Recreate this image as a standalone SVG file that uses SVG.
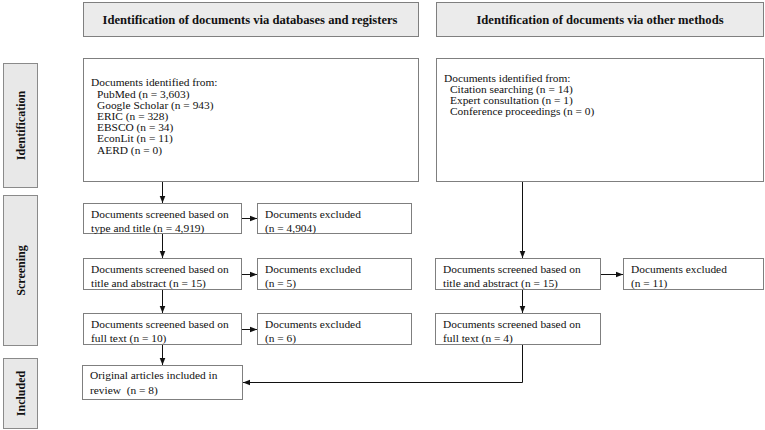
<svg xmlns="http://www.w3.org/2000/svg" width="765" height="430" viewBox="0 0 765 430">
<defs>
<style>
.hdr{fill:#ebebeb;stroke:#7f7f7f;stroke-width:1}
.side{fill:#e8e8e8;stroke:#8a8a8a;stroke-width:1}
.box{fill:#ffffff;stroke:#7f7f7f;stroke-width:1}
.t{font-family:"Liberation Serif","Times New Roman",serif;font-size:11.4px;fill:#111}
.hb{font-family:"Liberation Serif","Times New Roman",serif;font-size:12.6px;font-weight:bold;fill:#111}
.sb{font-family:"Liberation Serif","Times New Roman",serif;font-size:12px;font-weight:bold;fill:#111}
.c{fill:none;stroke:#111;stroke-width:1}
</style>
<marker id="ah" viewBox="0 0 10 10" refX="10" refY="5" markerWidth="7" markerHeight="7" markerUnits="userSpaceOnUse" orient="auto">
<path d="M0,1 L10,5 L0,9 z" fill="#111"/>
</marker>
</defs>
<rect width="765" height="430" fill="#ffffff"/>

<g id="hdr-db">
<rect class="hdr" x="83.5" y="2.5" width="335" height="34"/>
<text class="hb" x="250" y="23.5" text-anchor="middle">Identification of documents via databases and registers</text>
</g>
<g id="hdr-other">
<rect class="hdr" x="436.5" y="2.5" width="327" height="34"/>
<text class="hb" x="600" y="23.5" text-anchor="middle">Identification of documents via other methods</text>
</g>

<g id="side-identification">
<rect class="side" x="3.5" y="63.5" width="34" height="124"/>
<text class="sb" transform="translate(24.5,125.5) rotate(-90)" text-anchor="middle">Identification</text>
</g>
<g id="side-screening">
<rect class="side" x="3.5" y="195.5" width="34" height="150"/>
<text class="sb" transform="translate(24.5,270.5) rotate(-90)" text-anchor="middle">Screening</text>
</g>
<g id="side-included">
<rect class="side" x="3.5" y="358.5" width="34" height="70"/>
<text class="sb" transform="translate(24.5,393.5) rotate(-90)" text-anchor="middle">Included</text>
</g>

<g id="id-db">
<rect class="box" x="83.5" y="58.5" width="335" height="123"/>
<text class="t" x="91" y="86">Documents identified from:</text>
<text class="t" x="97" y="97.5">PubMed (n = 3,603)</text>
<text class="t" x="97" y="108.7">Google Scholar (n = 943)</text>
<text class="t" x="97" y="119.9">ERIC (n = 328)</text>
<text class="t" x="97" y="131.1">EBSCO (n = 34)</text>
<text class="t" x="97" y="142.3">EconLit (n = 11)</text>
<text class="t" x="97" y="153.5">AERD (n = 0)</text>
</g>
<g id="id-other">
<rect class="box" x="436.5" y="58.5" width="327" height="123"/>
<text class="t" x="444" y="82">Documents identified from:</text>
<text class="t" x="450" y="93">Citation searching (n = 14)</text>
<text class="t" x="450" y="104">Expert consultation (n = 1)</text>
<text class="t" x="450" y="115">Conference proceedings (n = 0)</text>
</g>

<g id="scr-type">
<rect class="box" x="83.5" y="203.5" width="158" height="30"/>
<text class="t" x="91" y="218">Documents screened based on</text>
<text class="t" x="91" y="232">type and title (n = 4,919)</text>
</g>
<g id="exc-type">
<rect class="box" x="257.5" y="203.5" width="154" height="30"/>
<text class="t" x="265" y="218">Documents excluded</text>
<text class="t" x="265" y="232">(n = 4,904)</text>
</g>
<g id="scr-abs">
<rect class="box" x="83.5" y="258.5" width="158" height="31"/>
<text class="t" x="91" y="273">Documents screened based on</text>
<text class="t" x="91" y="287">title and abstract (n = 15)</text>
</g>
<g id="exc-abs">
<rect class="box" x="257.5" y="258.5" width="154" height="31"/>
<text class="t" x="265" y="273">Documents excluded</text>
<text class="t" x="265" y="287">(n = 5)</text>
</g>
<g id="scr-full">
<rect class="box" x="83.5" y="313.5" width="158" height="31"/>
<text class="t" x="91" y="328">Documents screened based on</text>
<text class="t" x="91" y="342">full text (n = 10)</text>
</g>
<g id="exc-full">
<rect class="box" x="257.5" y="313.5" width="154" height="31"/>
<text class="t" x="265" y="328">Documents excluded</text>
<text class="t" x="265" y="342">(n = 6)</text>
</g>
<g id="included">
<rect class="box" x="82.5" y="365.5" width="160" height="34"/>
<text class="t" x="90" y="379">Original articles included in</text>
<text class="t" x="90" y="394" xml:space="preserve">review  (n = 8)</text>
</g>

<g id="o-scr-abs">
<rect class="box" x="435.5" y="258.5" width="165" height="31"/>
<text class="t" x="443" y="273">Documents screened based on</text>
<text class="t" x="443" y="287">title and abstract (n = 15)</text>
</g>
<g id="o-exc-abs">
<rect class="box" x="623.5" y="258.5" width="140" height="31"/>
<text class="t" x="631" y="273">Documents excluded</text>
<text class="t" x="631" y="287">(n = 11)</text>
</g>
<g id="o-scr-full">
<rect class="box" x="435.5" y="313.5" width="165" height="31"/>
<text class="t" x="443" y="328">Documents screened based on</text>
<text class="t" x="443" y="342">full text (n = 4)</text>
</g>

<g id="connectors">
<path class="c" d="M162.5,182 V203" marker-end="url(#ah)"/>
<path class="c" d="M242,218.5 H257" marker-end="url(#ah)"/>
<path class="c" d="M162.5,234 V258" marker-end="url(#ah)"/>
<path class="c" d="M242,274.5 H257" marker-end="url(#ah)"/>
<path class="c" d="M162.5,290 V313" marker-end="url(#ah)"/>
<path class="c" d="M242,329.5 H257" marker-end="url(#ah)"/>
<path class="c" d="M162.5,345 V365" marker-end="url(#ah)"/>
<path class="c" d="M522.5,182 V258" marker-end="url(#ah)"/>
<path class="c" d="M601,274.5 H623" marker-end="url(#ah)"/>
<path class="c" d="M522.5,290 V313" marker-end="url(#ah)"/>
<path class="c" d="M522.5,345 V382.5 H243" marker-end="url(#ah)"/>
</g>
</svg>
